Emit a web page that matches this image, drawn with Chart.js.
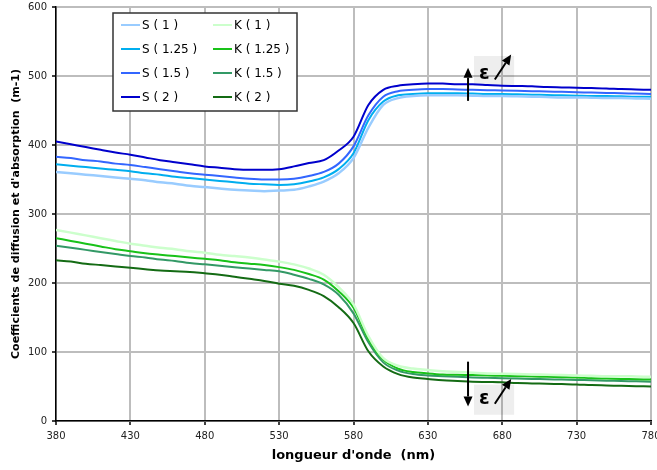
<!DOCTYPE html>
<html>
<head>
<meta charset="utf-8">
<script src="https://cdn.jsdelivr.net/npm/chart.js@4.4.1/dist/chart.umd.min.js"></script>
<style>
  body { margin: 0; background: #fff; }
  #wrap { width: 657px; height: 470px; }
</style>
</head>
<body>
<div id="wrap"><canvas id="chart" width="657" height="470"></canvas></div>
<script>
// wavelengths (nm), every 10 nm
const wavelengths = [380, 390, 400, 410, 420, 430, 440, 450, 460, 470, 480, 490, 500, 510, 520, 530, 540, 550, 560, 570,
  580, 590, 600, 610, 620, 630, 640, 650, 660, 670, 680, 690, 700, 710, 720, 730, 740, 750, 760, 770, 780];

// scattering coefficients S
const s1 = [361, 359, 357, 355, 353, 351, 349, 346, 344, 341, 339, 337, 335, 334, 333, 334, 335, 340, 347, 359,
  381, 425, 458, 468, 471, 472, 472, 472, 471.5, 471, 471, 470.5, 470, 469.5, 469, 469, 468.5, 468, 468, 467.5, 467];
const s125 = [372, 370, 368, 366, 364, 362, 359, 357, 354, 352, 350, 348, 346, 344, 343, 342, 343, 347, 353, 365,
  388, 436, 463, 472, 474, 475, 475, 475, 474.5, 474, 474, 473.5, 473, 472.5, 472, 471.5, 471, 471, 470.5, 470, 470];
const s15 = [383, 381, 378, 376, 373, 371, 368, 365, 362, 359, 357, 355, 353, 351, 350, 350, 351, 355, 361, 373,
  398, 443, 470, 478, 480, 481, 481, 480.5, 480, 479.5, 479, 478.5, 478, 477.5, 477, 476.5, 476, 475.5, 475, 474.5, 474];
const s2 = [405, 401, 397, 393, 389, 386, 382, 378, 375, 372, 369, 367, 365, 364, 364, 365, 369, 374, 378, 392,
  412, 458, 480, 486, 488, 489, 489, 488, 488, 487, 486, 485.5, 485, 484, 483.5, 483, 482.5, 482, 481, 480.5, 480];

// absorption coefficients K
const k1 = [277, 273, 269, 265, 261, 257, 254, 251, 249, 246, 244, 241, 239, 237, 234, 231, 227, 221, 212, 194,
  169, 123, 91, 80, 76, 74, 72, 71, 70, 69, 68.5, 68, 67.5, 67, 66.5, 66, 65.5, 65, 65, 64.5, 64];
const k125 = [265, 261, 257, 253, 249, 246, 243, 241, 239, 237, 235, 233, 230, 228, 226, 223, 219, 213, 205, 188,
  164, 119, 89, 76, 71, 69, 67.5, 67, 66.5, 66, 65.5, 65, 64.5, 64, 63.5, 63, 62, 61.5, 61, 60.5, 60];
const k15 = [254, 251, 248, 245, 242, 239, 237, 234, 232, 229, 227, 225, 223, 221, 219, 217, 212, 206, 198, 183,
  156, 114, 85, 73, 68, 66, 65, 64, 63, 62.5, 62, 61.5, 61, 60.5, 60, 59.5, 59, 58.5, 58, 57.5, 57];
const k2 = [233, 231, 228, 226, 224, 222, 220, 218, 217, 216, 214, 212, 209, 206, 203, 199, 196, 190, 181, 165,
  142, 101, 79, 68, 63, 61, 59, 58, 57, 56.5, 56, 55, 54.5, 54, 53.5, 53, 52, 51.5, 51, 50.5, 50];

const seriesNames = ['S ( 1 )', 'S ( 1.25 )', 'S ( 1.5 )', 'S ( 2 )', 'K ( 1 )', 'K ( 1.25 )', 'K ( 1.5 )', 'K ( 2 )'];
const seriesData = [s1, s125, s15, s2, k1, k125, k15, k2];
const seriesColors = ['#99ccff', '#00aeef', '#3366ff', '#0000cc', '#ccffcc', '#19c219', '#339966', '#146b14'];

const xTicks = [380, 430, 480, 530, 580, 630, 680, 730, 780];

const datasets = seriesData.map((vals, i) => ({
  label: seriesNames[i],
  data: vals.map((v, j) => ({ x: wavelengths[j], y: v })),
  borderColor: seriesColors[i],
  borderWidth: (i === 0 || i === 4) ? 2.5 : 2,
  pointRadius: 0,
  fill: false,
  cubicInterpolationMode: 'monotone'
}));

// legend box drawn inside the plot, two columns
const boxLegend = {
  id: 'boxLegend',
  afterDatasetsDraw(chart) {
    const ctx = chart.ctx;
    ctx.save();
    ctx.fillStyle = '#fff';
    ctx.fillRect(113, 13, 184, 98);
    ctx.strokeStyle = '#333';
    ctx.lineWidth = 1.5;
    ctx.strokeRect(113, 13, 184, 98);
    ctx.font = '12px "DejaVu Sans"';
    ctx.textBaseline = 'middle';
    chart.data.datasets.forEach((ds, i) => {
      const col = i < 4 ? 0 : 1;
      const row = i % 4;
      const x0 = col === 0 ? 121 : 213;
      const y = 25 + row * 24;
      ctx.strokeStyle = ds.borderColor;
      ctx.lineWidth = 2;
      ctx.beginPath();
      ctx.moveTo(x0, y);
      ctx.lineTo(x0 + 19, y);
      ctx.stroke();
      ctx.fillStyle = '#000';
      ctx.fillText(ds.label, x0 + 21, y + 1);
    });
    ctx.restore();
  }
};

function arrow(ctx, x1, y1, x2, y2) {
  const a = Math.atan2(y2 - y1, x2 - x1);
  const hl = 10, hw = 4.5;
  const bx = x2 - hl * Math.cos(a), by = y2 - hl * Math.sin(a);
  ctx.beginPath();
  ctx.moveTo(x1, y1);
  ctx.lineTo(bx, by);
  ctx.stroke();
  ctx.beginPath();
  ctx.moveTo(x2, y2);
  ctx.lineTo(bx + hw * Math.sin(a), by - hw * Math.cos(a));
  ctx.lineTo(bx - hw * Math.sin(a), by + hw * Math.cos(a));
  ctx.closePath();
  ctx.fill();
}

// epsilon annotations (positions in data units)
const notes = [
  { box: [661, 688, 529, 486], eps: [668, 503], up: [657, 464, 512], diag: [675, 495, 686, 531] },
  { box: [661, 688, 52.6, 9], eps: [668, 32], up: [657, 86, 21], diag: [675, 25, 686, 61] }
];

const epsNotes = {
  id: 'epsNotes',
  beforeDatasetsDraw(chart) {
    const { ctx, scales: { x, y } } = chart;
    ctx.save();
    ctx.fillStyle = 'rgba(0, 0, 0, 0.065)';
    notes.forEach(n => {
      const l = x.getPixelForValue(n.box[0]), r = x.getPixelForValue(n.box[1]);
      const t = y.getPixelForValue(n.box[2]), b = y.getPixelForValue(n.box[3]);
      ctx.fillRect(l, t, r - l, b - t);
    });
    ctx.restore();
  },
  afterDatasetsDraw(chart) {
    const { ctx, scales: { x, y } } = chart;
    ctx.save();
    ctx.fillStyle = '#000';
    ctx.strokeStyle = '#000';
    ctx.lineWidth = 2;
    ctx.font = 'bold 19px "DejaVu Sans"';
    ctx.textAlign = 'center';
    ctx.textBaseline = 'middle';
    notes.forEach(n => {
      ctx.fillText('ε', x.getPixelForValue(n.eps[0]), y.getPixelForValue(n.eps[1]));
      const ux = x.getPixelForValue(n.up[0]);
      arrow(ctx, ux, y.getPixelForValue(n.up[1]), ux, y.getPixelForValue(n.up[2]));
      arrow(ctx, x.getPixelForValue(n.diag[0]), y.getPixelForValue(n.diag[1]),
        x.getPixelForValue(n.diag[2]), y.getPixelForValue(n.diag[3]));
    });
    ctx.restore();
  }
};

new Chart(document.getElementById('chart'), {
  type: 'line',
  data: { datasets },
  options: {
    responsive: false,
    animation: false,
    events: [],
    layout: { padding: { left: 0, top: 7, right: 6, bottom: 0 } },
    plugins: { legend: { display: false }, tooltip: { enabled: false } },
    scales: {
      x: {
        type: 'linear',
        min: 380,
        max: 780,
        afterBuildTicks: s => { s.ticks = xTicks.map(v => ({ value: v })); },
        afterFit: s => { s.height = 49; s.paddingLeft = 0; s.paddingRight = 0; },
        ticks: { color: '#222', font: { family: 'DejaVu Sans', size: 10 }, padding: 5, maxRotation: 0, autoSkip: false },
        grid: { color: '#bdbdbd', lineWidth: 2, tickLength: 4, tickColor: '#000', tickWidth: 1.5 },
        border: { color: '#000', width: 1.5 },
        title: {
          display: true,
          text: "longueur d'onde  (nm)",
          color: '#000',
          font: { family: 'DejaVu Sans', size: 13, weight: 'bold' },
          padding: { top: 0, bottom: 7 }
        }
      },
      y: {
        min: 0,
        max: 600,
        ticks: { stepSize: 100, color: '#222', font: { family: 'DejaVu Sans', size: 10 }, padding: 5 },
        afterFit: s => { s.width = 56; s.paddingTop = 0; s.paddingBottom = 0; },
        grid: { color: '#bdbdbd', lineWidth: 2, tickLength: 4, tickColor: '#000', tickWidth: 1.5 },
        border: { color: '#000', width: 1.5 },
        title: {
          display: true,
          text: "Coefficients de diffusion et d'absorption  (m-1)",
          color: '#000',
          font: { family: 'DejaVu Sans', size: 11, weight: 'bold' },
          padding: { top: 10, bottom: 0 }
        }
      }
    }
  },
  plugins: [epsNotes, boxLegend]
});
</script>
</body>
</html>
